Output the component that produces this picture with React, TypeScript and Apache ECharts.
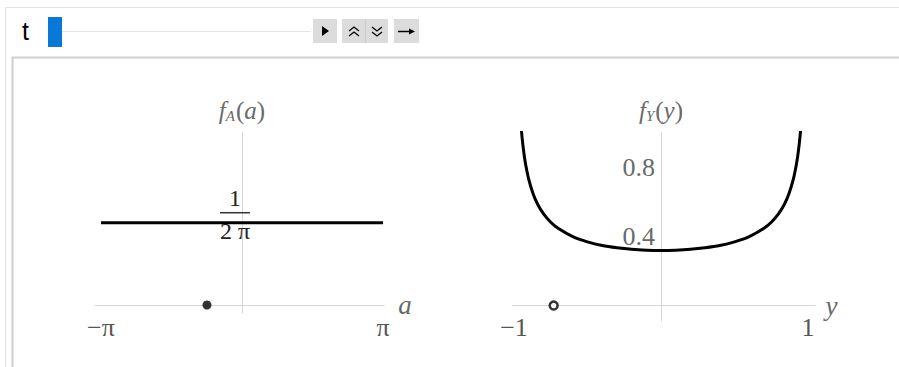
import React, { useEffect, useRef } from "react";
import * as echarts from "echarts";

// ---- data ----
const aTickValues = [-3.14159, 3.14159];
const aTickLabels = ["−π", "π"];
const densityAX = [-3.14159, 3.14159];
const densityAValues = [0.159, 0.159];
const fATickValues = [0.159];

const yTickValues = [-1, 1];
const yTickLabels = ["−1", "1"];
const fYTickValues = [0.4, 0.8];
const fYTickLabels = ["0.4", "0.8"];
const curveY = [
  -0.95, -0.945, -0.94, -0.93, -0.92, -0.9, -0.87, -0.84, -0.8, -0.75, -0.7, -0.6, -0.5, -0.4, -0.3, -0.2, -0.1,
  0, 0.1, 0.2, 0.3, 0.4, 0.5, 0.6, 0.7, 0.75, 0.8, 0.84, 0.87, 0.9, 0.92, 0.93, 0.94, 0.945, 0.95,
];
const curveFY = [
  1.019, 0.973, 0.933, 0.866, 0.812, 0.73, 0.646, 0.587, 0.531, 0.481, 0.446, 0.398, 0.368, 0.347, 0.334, 0.325, 0.32,
  0.318, 0.32, 0.325, 0.334, 0.347, 0.368, 0.398, 0.446, 0.481, 0.531, 0.587, 0.646, 0.73, 0.812, 0.866, 0.933, 0.973, 1.019,
];
const pointA = [-0.78, 0];
const pointY = [-0.73, 0];

const SERIF = "Liberation Serif";
const GRAY = "#6a6a6a";
const AXIS = "#d6d6d6";

function nameRich() {
  return {
    f: { fontFamily: SERIF, fontStyle: "italic", fontSize: 25, color: GRAY, lineHeight: 26 },
    p: { fontFamily: SERIF, fontSize: 25, color: GRAY, lineHeight: 26 },
    s: { fontFamily: SERIF, fontStyle: "italic", fontSize: 15, color: GRAY, lineHeight: 15, padding: [11, 1, 0, 0] },
  };
}

export default function App() {
  const ref = useRef<HTMLDivElement>(null);
  useEffect(() => {
    if (!ref.current) return;
    const chart = echarts.init(ref.current, null, { renderer: "svg" });
    const option: any = {
      animation: false,
      backgroundColor: "#ffffff",
      grid: [
        { left: 95.2, top: 132, width: 289.1, height: 181 },
        { left: 512.5, top: 132.5, width: 302.9, height: 188.6 },
      ],
      xAxis: [
        {
          gridIndex: 0,
          type: "value",
          min: -3.27,
          max: 3.17,
          offset: -8,
          name: "a",
          nameLocation: "end",
          nameGap: 14,
          nameTextStyle: { fontFamily: SERIF, fontStyle: "italic", fontSize: 27, color: GRAY, padding: [4, 0, 0, 0] },
          axisLine: { onZero: false, lineStyle: { color: AXIS, width: 1 } },
          axisTick: { show: false },
          splitLine: { show: false },
          axisLabel: {
            customValues: aTickValues,
            margin: 9,
            fontFamily: SERIF,
            fontSize: 26,
            color: "#555",
            formatter: (v: number) => aTickLabels[aTickValues.findIndex((t) => Math.abs(t - v) < 1e-3)] ?? "",
          },
        },
        {
          gridIndex: 1,
          type: "value",
          min: -1.01,
          max: 1.05,
          offset: -15.6,
          name: "y",
          nameLocation: "end",
          nameGap: 10,
          nameTextStyle: { fontFamily: SERIF, fontStyle: "italic", fontSize: 27, color: GRAY, padding: [8, 0, 0, 0] },
          axisLine: { onZero: false, lineStyle: { color: AXIS, width: 1 } },
          axisTick: { show: false },
          splitLine: { show: false },
          axisLabel: {
            customValues: yTickValues,
            margin: 9,
            fontFamily: SERIF,
            fontSize: 26,
            color: "#555",
            formatter: (v: number) => yTickLabels[yTickValues.findIndex((t) => Math.abs(t - v) < 1e-6)] ?? "",
          },
        },
      ],
      yAxis: [
        {
          gridIndex: 0,
          type: "value",
          min: -0.01546,
          max: 0.3343,
          offset: -146.76,
          name: "{f|f}{s|A}{p|(}{f|a}{p|)}",
          nameLocation: "end",
          nameGap: 9,
          nameTextStyle: { rich: nameRich() },
          axisLine: { onZero: false, lineStyle: { color: AXIS, width: 1 } },
          axisTick: { show: false },
          splitLine: { show: false },
          axisLabel: {
            customValues: fATickValues,
            align: "center",
            margin: 7,
            formatter: () => "{n|1}\n{bar|}\n{d|2 π}\n{sp|}",
            rich: {
              n: { fontFamily: SERIF, fontSize: 24, color: "#222", lineHeight: 22, align: "center" },
              bar: { width: 30, height: 1.5, backgroundColor: "#333", lineHeight: 8, align: "center" },
              d: { fontFamily: SERIF, fontSize: 24, color: "#222", lineHeight: 28, align: "center" },
              sp: { height: 14, lineHeight: 14 },
            },
          },
        },
        {
          gridIndex: 1,
          type: "value",
          min: -0.09,
          max: 1.0,
          offset: -148.5,
          name: "{f|f}{s|Y}{p|(}{f|y}{p|)}",
          nameLocation: "end",
          nameGap: 9,
          nameTextStyle: { rich: nameRich() },
          axisLine: { onZero: false, lineStyle: { color: AXIS, width: 1 } },
          axisTick: { show: false },
          splitLine: { show: false },
          axisLabel: {
            customValues: fYTickValues,
            margin: 6,
            fontFamily: SERIF,
            fontSize: 26,
            color: GRAY,
            formatter: (v: number) => fYTickLabels[fYTickValues.findIndex((t) => Math.abs(t - v) < 1e-6)] ?? "",
          },
        },
      ],
      series: [
        {
          type: "line",
          xAxisIndex: 0,
          yAxisIndex: 0,
          data: densityAX.map((x, i) => [x, densityAValues[i]]),
          symbol: "none",
          lineStyle: { color: "#000", width: 3 },
          z: 1,
        },
        {
          type: "scatter",
          xAxisIndex: 0,
          yAxisIndex: 0,
          data: [pointA],
          symbol: "circle",
          symbolSize: 9,
          itemStyle: { color: "#000" },
        },
        {
          type: "line",
          xAxisIndex: 1,
          yAxisIndex: 1,
          data: curveY.map((y, i) => [y, curveFY[i]]),
          symbol: "none",
          smooth: 0.3,
          clip: true,
          lineStyle: { color: "#000", width: 3 },
        },
        {
          type: "scatter",
          xAxisIndex: 1,
          yAxisIndex: 1,
          data: [pointY],
          symbol: "circle",
          symbolSize: 8,
          itemStyle: { color: "#fff", borderColor: "#000", borderWidth: 2.5 },
        },
      ],
      graphic: [
        { type: "line", shape: { x1: 5, y1: 7.5, x2: 899, y2: 7.5 }, style: { stroke: "#e2e2e2", lineWidth: 1 } },
        { type: "line", shape: { x1: 5.5, y1: 7, x2: 5.5, y2: 367 }, style: { stroke: "#e2e2e2", lineWidth: 1 } },
        { type: "rect", shape: { x: 12.5, y: 57.5, width: 900, height: 320 }, style: { fill: "none", stroke: "#cfcfcf", lineWidth: 2 } },
        { type: "text", x: 22, y: 31, style: { text: "t", fontFamily: "Liberation Sans", fontSize: 25, fill: "#000", verticalAlign: "middle" } },
        { type: "line", shape: { x1: 62, y1: 31.5, x2: 310, y2: 31.5 }, style: { stroke: "#e4e4e4", lineWidth: 1 } },
        { type: "rect", shape: { x: 48, y: 17, width: 14, height: 30 }, style: { fill: "#0a78d7" } },
        { type: "rect", shape: { x: 313, y: 19, width: 24, height: 24 }, style: { fill: "#dcdcdc" } },
        { type: "polygon", shape: { points: [[322, 26], [322, 36], [329, 31]] }, style: { fill: "#000" } },
        { type: "rect", shape: { x: 342, y: 19, width: 46, height: 24 }, style: { fill: "#dcdcdc" } },
        { type: "line", shape: { x1: 365.5, y1: 19, x2: 365.5, y2: 43 }, style: { stroke: "#cecece", lineWidth: 1 } },
        { type: "polyline", shape: { points: [[349, 31], [354, 27], [359, 31]] }, style: { stroke: "#000", lineWidth: 1.3, fill: "none" } },
        { type: "polyline", shape: { points: [[349, 36], [354, 32], [359, 36]] }, style: { stroke: "#000", lineWidth: 1.3, fill: "none" } },
        { type: "polyline", shape: { points: [[372, 27], [377, 31], [382, 27]] }, style: { stroke: "#000", lineWidth: 1.3, fill: "none" } },
        { type: "polyline", shape: { points: [[372, 32], [377, 36], [382, 32]] }, style: { stroke: "#000", lineWidth: 1.3, fill: "none" } },
        { type: "rect", shape: { x: 394, y: 19, width: 25, height: 24 }, style: { fill: "#dcdcdc" } },
        { type: "line", shape: { x1: 398, y1: 31.5, x2: 411, y2: 31.5 }, style: { stroke: "#000", lineWidth: 1.5 } },
        { type: "polygon", shape: { points: [[409, 28.5], [415, 31.5], [409, 34.5]] }, style: { fill: "#000" } },
      ],
    };
    chart.setOption(option);
    return () => chart.dispose();
  }, []);
  return (
    <div
      ref={ref}
      style={{ position: "absolute", left: 0, top: 0, width: 899, height: 367, background: "#fff" }}
    />
  );
}
